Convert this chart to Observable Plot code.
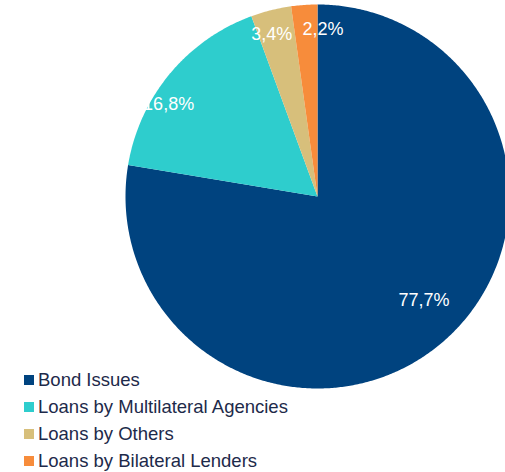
<!DOCTYPE html>
<html>
<head>
<meta charset="utf-8">
<script src="https://cdn.jsdelivr.net/npm/d3@7"></script>
<script src="https://cdn.jsdelivr.net/npm/@observablehq/plot@0.6"></script>
<style>
  html, body { margin: 0; padding: 0; background: #fff; }
  #wrap { position: relative; width: 505px; height: 472px; overflow: hidden; font-family: "Liberation Sans", Arial, sans-serif; }
  #legend { position: absolute; left: 24px; top: 366px; }
  .item { display: flex; align-items: center; height: 27px; font-size: 18.5px; color: #1d2a4a; white-space: nowrap; }
  .sw { width: 10px; height: 10px; margin-right: 4px; flex: none; }
</style>
</head>
<body>
<div id="wrap"><div id="chart"></div><div id="legend"></div></div>
<script>
const categories = ["Bond Issues", "Loans by Multilateral Agencies", "Loans by Others", "Loans by Bilateral Lenders"];
const values = [77.7, 16.8, 3.4, 2.2];
const labels = ["77,7%", "16,8%", "3,4%", "2,2%"];
const colors = ["#00437f", "#2ecdcd", "#d7bf7b", "#f78c3b"];

// pie geometry (in unit-radius data space, clockwise from 12 o'clock)
const total = d3.sum(values);
let acc = 0;
const slices = values.map((v, i) => {
  const a0 = acc / total * 2 * Math.PI;
  acc += v;
  const a1 = acc / total * 2 * Math.PI;
  return {cat: categories[i], label: labels[i], a0, a1, mid: (a0 + a1) / 2};
});
const pts = [];
for (const s of slices) {
  pts.push({cat: s.cat, x: 0, y: 0});
  const n = Math.max(8, Math.ceil((s.a1 - s.a0) * 120));
  for (let k = 0; k <= n; k++) {
    const a = s.a0 + (s.a1 - s.a0) * k / n;
    pts.push({cat: s.cat, x: Math.sin(a), y: Math.cos(a)});
  }
}
const labelR = [0.77, 0.75, 0.875, 0.875];
const labelOff = [[11, -9], [-38, 0], [-5, 1], [17, 0]];
const labelData = slices.map((s, i) => ({
  label: s.label, x: labelR[i] * Math.sin(s.mid), y: labelR[i] * Math.cos(s.mid), i
}));

const W = 505, H = 472, cx = 317, cy = 196, R = 192;
const chart = Plot.plot({
  width: W, height: H,
  margin: 0,
  x: {domain: [-cx / R, (W - cx) / R], range: [0, W], axis: null},
  y: {domain: [-(H - cy) / R, cy / R], range: [H, 0], axis: null},
  color: {domain: categories, range: colors},
  style: {fontFamily: "'Liberation Sans', Arial, sans-serif", background: "#fff"},
  marks: [
    Plot.line(pts, {x: "x", y: "y", z: "cat", fill: "cat", stroke: "none", curve: "linear-closed"}),
    ...labelData.map(d => Plot.text([d], {
      x: "x", y: "y", text: "label", fill: "white", fontSize: 18,
      dx: labelOff[d.i][0], dy: labelOff[d.i][1]
    }))
  ]
});
document.getElementById("chart").appendChild(chart);

const legend = document.getElementById("legend");
categories.forEach((c, i) => {
  const item = document.createElement("div");
  item.className = "item";
  item.innerHTML = `<span class="sw" style="background:${colors[i]}"></span><span>${c}</span>`;
  legend.appendChild(item);
});
</script>
</body>
</html>
